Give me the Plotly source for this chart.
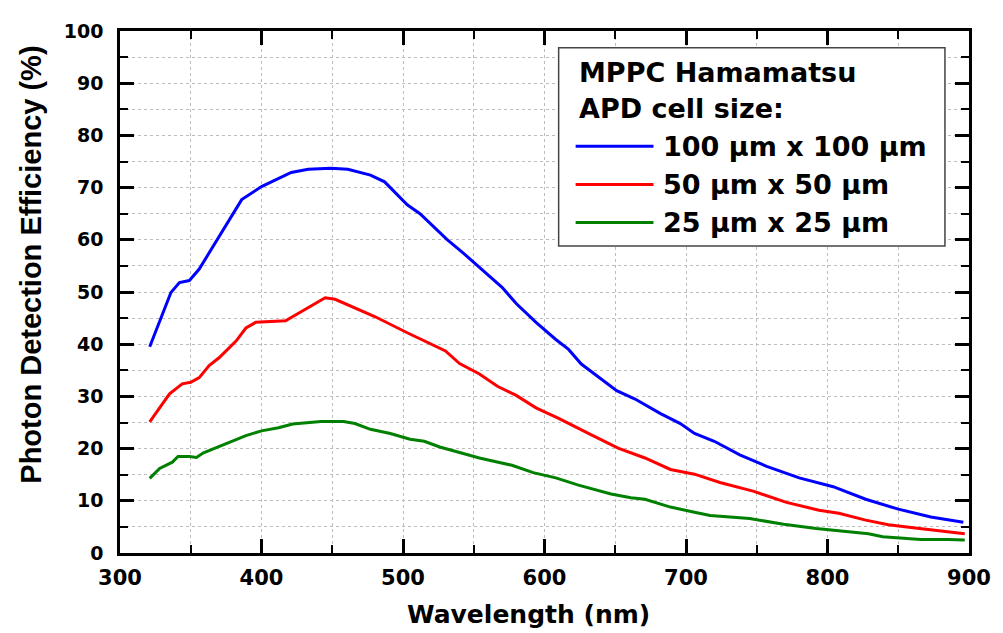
import plotly.graph_objects as go

# ---- data ----
x_100 = [321, 331, 336, 342, 349, 356, 368, 386, 400, 421, 433, 449, 461, 477, 487, 503, 512, 531, 542, 559,
         570, 580, 594, 608, 617, 626, 651, 664, 682, 696, 706, 720, 738, 757, 780, 804, 827, 850, 873, 896]
y_100 = [39.5, 46.2, 49.9, 51.8, 52.2, 54.4, 59.8, 67.7, 70.2, 72.9, 73.5, 73.7, 73.5, 72.4, 71.1, 66.7, 65.0,
         60.1, 57.6, 53.5, 50.9, 47.8, 44.2, 40.9, 39.0, 36.2, 31.1, 29.5, 26.7, 24.8, 22.9, 21.4, 18.8, 16.6,
         14.4, 12.7, 10.3, 8.4, 6.9, 5.9]

x_50 = [321, 335, 344, 350, 356, 363, 370, 382, 389, 396, 417, 424, 445, 452, 480, 503, 515, 530, 540, 554,
        567, 580, 594, 610, 631, 652, 671, 689, 706, 724, 748, 771, 794, 808, 827, 843, 859, 873, 897]
y_50 = [25.1, 30.5, 32.4, 32.7, 33.6, 35.9, 37.4, 40.6, 43.1, 44.2, 44.5, 45.6, 48.9, 48.6, 45.3, 42.2, 40.6,
        38.7, 36.3, 34.3, 31.9, 30.2, 27.8, 25.8, 22.9, 20.1, 18.2, 16.0, 15.1, 13.5, 11.8, 9.7, 8.2, 7.6, 6.3,
        5.4, 4.9, 4.5, 3.7]

x_25 = [321, 328, 337, 341, 349, 354, 359, 370, 379, 389, 400, 412, 422, 442, 458, 466, 477, 491, 505, 515,
        526, 540, 554, 577, 592, 608, 624, 647, 661, 671, 689, 706, 717, 745, 769, 792, 815, 829, 839, 850,
        866, 885, 897]
y_25 = [14.3, 16.2, 17.4, 18.5, 18.5, 18.3, 19.2, 20.4, 21.5, 22.5, 23.4, 24.0, 24.7, 25.2, 25.2, 24.8, 23.7,
        22.9, 21.8, 21.4, 20.3, 19.3, 18.2, 16.8, 15.4, 14.4, 13.0, 11.3, 10.6, 10.3, 8.8, 7.8, 7.2, 6.6, 5.5,
        4.7, 4.0, 3.7, 3.1, 2.9, 2.6, 2.6, 2.5]

series_names = ["100 μm x 100 μm", "50 μm x 50 μm", "25 μm x 25 μm"]
series_colors = ["#0000ff", "#ff0000", "#008000"]
legend_title = ["MPPC Hamamatsu", "APD cell size:"]
x_title = "Wavelength (nm)"
y_title = "Photon Detection Efficiency (%)"

x_ticks = [300, 400, 500, 600, 700, 800, 900]
y_ticks = [0, 10, 20, 30, 40, 50, 60, 70, 80, 90, 100]

WIDE = "DejaVu Sans, Verdana, sans-serif"
NARROW = "Liberation Sans, Arial, sans-serif"

fig = go.Figure()
for xs, ys, name, col in zip([x_100, x_50, x_25], [y_100, y_50, y_25], series_names, series_colors):
    fig.add_trace(go.Scatter(x=xs, y=ys, mode="lines", name=name,
                             line=dict(color=col, width=3), showlegend=False))

axis_common = dict(
    showline=True, linecolor="black", linewidth=2.5, mirror="allticks",
    ticks="inside", ticklen=14, tickwidth=2.5, tickcolor="black",
    showgrid=True, gridcolor="#bdbdbd", gridwidth=1, griddash="dot",
    zeroline=False,
)

fig.update_xaxes(**axis_common, range=[300, 900], tickvals=x_ticks, ticklabelstandoff=4,
                 tickfont=dict(family=WIDE, size=21, color="black", weight="bold"),
                 minor=dict(dtick=50, ticks="inside", ticklen=8, tickwidth=2, tickcolor="black",
                            showgrid=True, gridcolor="#bdbdbd", griddash="dot"))
fig.update_yaxes(**axis_common, range=[0, 100], tickvals=y_ticks, ticklabelstandoff=10,
                 tickfont=dict(family=WIDE, size=19, color="black", weight="bold"),
                 minor=dict(dtick=5, ticks="inside", ticklen=8, tickwidth=2, tickcolor="black",
                            showgrid=True, gridcolor="#bdbdbd", griddash="dot"))

# axis titles placed as annotations to match the reference positions
fig.add_annotation(text=x_title, xref="paper", yref="paper", x=0.481, y=-0.118, showarrow=False,
                   xanchor="center", yanchor="middle",
                   font=dict(family=WIDE, size=25, color="black", weight="bold"))
fig.add_annotation(text=y_title, xref="paper", yref="paper", x=-0.105, y=0.552, showarrow=False,
                   textangle=-90, xanchor="center", yanchor="middle",
                   font=dict(family=NARROW, size=29, color="black", weight="bold"))

# ---- custom legend box (data coordinates of the plot) ----
box_x0, box_x1, box_y0, box_y1 = 610, 883, 58.8, 96.8
fig.add_shape(type="rect", xref="x", yref="y", x0=box_x0, x1=box_x1, y0=box_y0, y1=box_y1,
              line=dict(color="#444444", width=1.5), fillcolor="white", layer="above")
title_y = [92.1, 85.1]
for t, ty in zip(legend_title, title_y):
    fig.add_annotation(x=623, y=ty, xref="x", yref="y", text=t, showarrow=False, xanchor="left",
                       yanchor="middle", font=dict(family=WIDE, size=27, color="black", weight="bold"))
entry_y = [77.9, 70.6, 63.3]
for name, col, ey in zip(series_names, series_colors, entry_y):
    fig.add_shape(type="line", xref="x", yref="y", x0=622, x1=677, y0=ey, y1=ey,
                  line=dict(color=col, width=3), layer="above")
    fig.add_annotation(x=682, y=ey, xref="x", yref="y", text=name, showarrow=False, xanchor="left",
                       yanchor="middle", font=dict(family=WIDE, size=27, color="black", weight="bold"))

fig.update_layout(
    width=995, height=625,
    margin=dict(l=112, r=26, t=16, b=80),
    paper_bgcolor="white", plot_bgcolor="white",
    showlegend=False,
)

fig.write_html("out.html")
